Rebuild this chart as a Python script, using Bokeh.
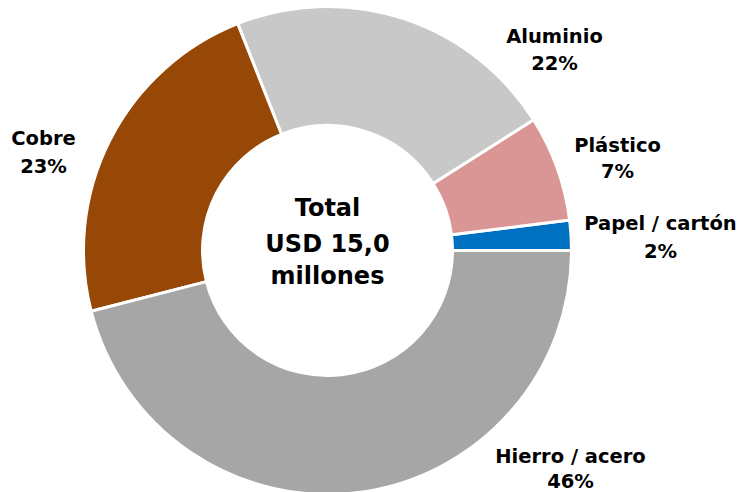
from bokeh.plotting import figure
from bokeh.models import Range1d, ColumnDataSource
from bokeh.core.properties import value
from bokeh.embed import file_html
from bokeh.resources import INLINE
import math

# Data
categories = ["Papel / cartón", "Plástico", "Aluminio", "Cobre", "Hierro / acero"]
shares = [2, 7, 22, 23, 46]
pct_labels = ["2%", "7%", "22%", "23%", "46%"]
colors = ["#0070C0", "#DA9694", "#C8C8C8", "#974706", "#A6A6A6"]
center_lines = ["Total", "USD 15,0", "millones"]

W, H = 741, 492
CX, CY = 327, 250
R_OUT, R_IN = 244, 125

# label layout (pixel positions: x center, middle of name, middle of pct)
label_pos = {
    "Papel / cartón": (660, 223, 251),
    "Plástico": (617, 145, 171),
    "Aluminio": (554, 36, 63),
    "Cobre": (43, 138, 166),
    "Hierro / acero": (570, 456, 481),
}
center_mid = [207, 243, 275]

p = figure(width=W, height=H, output_backend="svg", toolbar_location=None,
           x_range=Range1d(0, W), y_range=Range1d(0, H), min_border=0)
p.axis.visible = False
p.grid.visible = False
p.outline_line_color = None
p.background_fill_color = "white"

total = sum(shares)
starts, ends = [], []
acc = 0
for s in shares:
    starts.append(2 * math.pi * acc / total)
    acc += s
    ends.append(2 * math.pi * acc / total)

src = ColumnDataSource(dict(start=starts, end=ends, color=colors, cat=categories))
p.annular_wedge(x=CX, y=H - CY, inner_radius=R_IN, outer_radius=R_OUT,
                start_angle="start", end_angle="end", fill_color="color",
                line_color="white", line_width=3, source=src)

font = value("DejaVu Sans")
lx, ly, ltxt = [], [], []
for cat, pct in zip(categories, pct_labels):
    x, m1, m2 = label_pos[cat]
    lx += [x, x]
    ly += [H - m1, H - m2]
    ltxt += [cat, pct]
p.text(x=lx, y=ly, text=ltxt, text_font=font, text_font_style="bold",
       text_font_size="19.5px", text_align="center", text_baseline="middle",
       text_color="black")

p.text(x=[CX] * 3, y=[H - m for m in center_mid], text=center_lines,
       text_font=font, text_font_style="bold", text_font_size="24px",
       text_align="center", text_baseline="middle", text_color="black")

open("out.html", "w").write(file_html(p, INLINE))
